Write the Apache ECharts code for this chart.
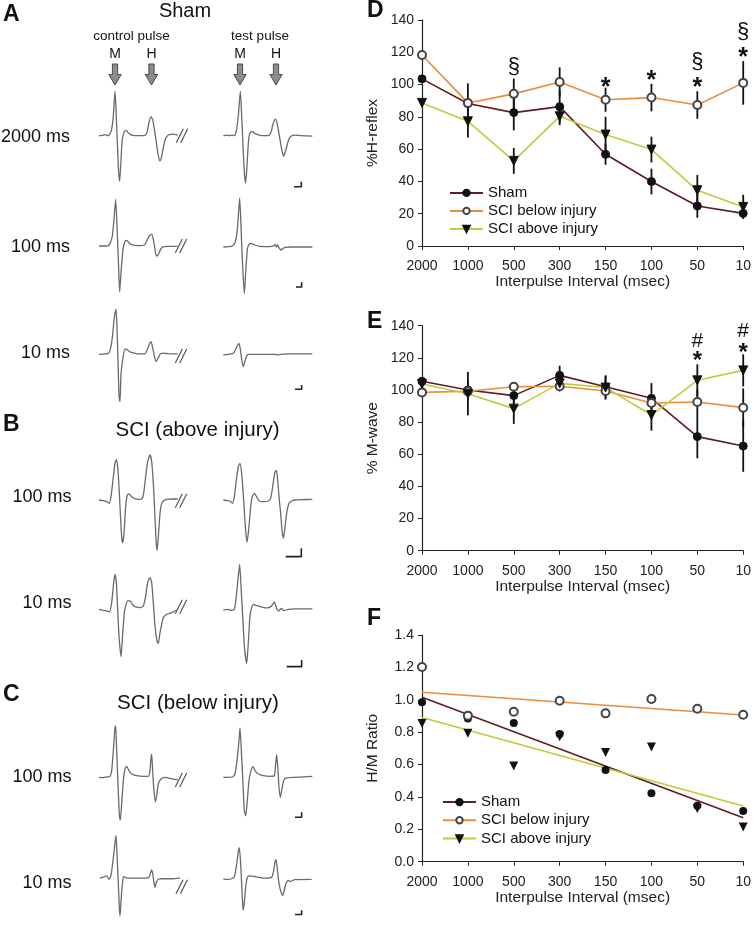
<!DOCTYPE html>
<html><head><meta charset="utf-8">
<script src="https://cdn.jsdelivr.net/npm/echarts@6/dist/echarts.min.js"></script>
<style>html,body{margin:0;padding:0;background:#fff}#c{width:754px;height:931px}</style>
</head><body><div id="c"></div>
<script>
const FONT = '"Liberation Sans", Arial, Helvetica, sans-serif';

// ---------- Panels D/E/F data ----------
const categories = ['2000','1000','500','300','150','100','50','10'];
const seriesNames = ['Sham','SCI below injury','SCI above injury'];

// D: %H-reflex
const hShamMean  = [103.5, 88.2, 82.6, 86.3, 56.8, 39.9, 24.8, 20.2];
const hShamSE    = [0, 12.5, 11, 10, 6.5, 8, 7.3, 3];
const hBelowMean = [118.3, 88.6, 94.2, 101.6, 90.6, 91.9, 87.3, 101];
const hBelowSE   = [0, 0, 9.5, 9, 7.5, 8.5, 8.5, 13.5];
const hAboveMean = [88.6, 77.2, 52.7, 80.3, 69, 59.7, 34.5, 24.2];
const hAboveSE   = [0, 10, 8, 5.5, 11, 8, 9.5, 7.5];
const annotDCat  = [2, 4, 5, 6, 6, 7, 7];
const annotDVal  = [110.9, 98, 102.3, 114, 98, 132.6, 116.5];
const annotDText = ['§', '*', '*', '§', '*', '§', '*'];

// E: % M-wave
const mShamMean  = [105.4, 100, 96.5, 109.1, 102, 94.8, 71, 65.1];
const mShamSE    = [0, 6, 5, 6, 7, 9.5, 13.5, 16];
const mBelowMean = [98.5, 99.2, 102, 102.3, 99.4, 91.9, 92.5, 89];
const mBelowSE   = [0, 0, 0, 0, 0, 0, 8, 12];
const mAboveMean = [103.7, 97.7, 88.4, 104.1, 101.5, 84.4, 106, 112.2];
const mAboveSE   = [0, 13.5, 9.5, 5, 7.5, 9.7, 10, 10];
const annotECat  = [6, 6, 7, 7];
const annotEVal  = [130.5, 117.5, 136.3, 123];
const annotEText = ['#', '*', '#', '*'];

// F: H/M ratio
const rShamPts  = [0.984, 0.885, 0.857, 0.789, 0.566, 0.422, 0.346, 0.313];
const rBelowPts = [1.202, 0.902, 0.926, 0.994, 0.916, 1.005, 0.945, 0.908];
const rAbovePts = [0.854, 0.793, 0.591, 0.772, 0.675, 0.708, 0.329, 0.214];
const rShamTrend  = [1.015, 0.272];
const rBelowTrend = [1.046, 0.906];
const rAboveTrend = [0.891, 0.344];

// ---------- Panels A/B/C traces (time units, amplitude units) ----------
const traceA2000Ctrl = [[12,0],[22,1],[30,3],[38,0],[44,4],[50,20],[55,60],[60,134],[63,80],[67,-20],[71,-110],[74,-136],[77,-90],[82,-10],[88,12],[94,16],[100,8],[110,2],[130,0],[150,1],[156,10],[162,40],[168,57],[173,48],[178,20],[184,-20],[190,-60],[195,-76],[200,-62],[206,-30],[212,-8],[220,2],[235,5],[248,2]];
const traceA2000Test = [[385,0],[395,2],[402,0],[410,2],[418,0],[424,15],[430,60],[436,134],[440,60],[444,-30],[448,-110],[452,-142],[456,-90],[461,-10],[466,10],[472,12],[480,6],[495,1],[520,0],[528,10],[534,35],[541,50],[547,35],[553,0],[560,-40],[566,-62],[572,-45],[580,-15],[588,-2],[600,2],[620,0],[652,-1]];
const traceA100Ctrl = [[12,0],[30,0],[40,1],[46,10],[52,30],[57,80],[62,140],[66,60],[70,-40],[74,-138],[78,-80],[84,-10],[90,14],[96,17],[102,10],[110,4],[130,1],[148,3],[155,15],[163,30],[170,35],[175,20],[180,-10],[184,-30],[190,-25],[198,-8],[206,-2],[220,-1],[248,-1]];
const traceA100Test = [[385,-3],[400,-2],[412,0],[420,10],[426,40],[430,90],[434,144],[438,60],[442,-40],[448,-143],[452,-80],[457,-10],[462,5],[468,8],[480,3],[495,-1],[520,-2],[530,-1],[538,1],[541,5],[544,-3],[548,3],[552,-5],[558,-12],[563,-8],[570,-4],[590,-3],[652,-3]];
const traceA10Ctrl = [[12,0],[30,1],[40,3],[46,15],[52,50],[58,110],[63,135],[66,80],[69,-20],[72,-120],[75,-142],[78,-60],[84,-10],[90,16],[96,14],[104,8],[115,4],[130,1],[150,2],[156,12],[163,30],[168,38],[173,20],[178,-5],[184,-22],[190,-10],[198,3],[206,3],[220,2],[248,1]];
const traceA10Test = [[385,-2],[400,0],[415,3],[422,15],[428,28],[432,33],[436,15],[440,-15],[445,-37],[450,-20],[456,-3],[462,0],[475,0],[500,0],[540,0],[548,-2],[556,0],[580,1],[652,1]];
const traceB100Ctrl = [[12,0],[25,-2],[35,-5],[43,-10],[48,10],[54,60],[60,110],[64,121],[68,100],[72,40],[76,-40],[80,-110],[83,-128],[87,-100],[92,-20],[97,15],[102,18],[110,10],[120,4],[130,2],[140,3],[146,20],[152,70],[158,115],[165,135],[170,115],[175,50],[179,-30],[183,-120],[186,-152],[190,-110],[195,-40],[200,-10],[206,-2],[215,2],[230,3],[248,3]];
const traceB100Test = [[385,0],[398,-2],[406,-4],[412,-10],[418,10],[424,60],[430,100],[435,110],[440,80],[446,0],[451,-80],[456,-127],[461,-90],[467,-20],[472,10],[478,20],[485,10],[492,-2],[505,-5],[520,-3],[527,5],[533,40],[540,85],[544,89],[548,60],[552,10],[557,-40],[561,-90],[565,-115],[569,-90],[575,-40],[582,-10],[590,-3],[600,0],[620,1],[652,2]];
const traceB10Ctrl = [[12,0],[25,-3],[35,-5],[43,-8],[50,20],[56,80],[60,105],[64,80],[68,0],[72,-80],[78,-142],[82,-90],[88,-10],[92,10],[98,25],[105,25],[112,15],[120,8],[135,5],[145,10],[152,40],[158,80],[165,95],[170,80],[175,20],[180,-50],[186,-95],[190,-102],[195,-70],[200,-45],[205,-25],[215,-15],[230,-10],[245,-2]];
const traceB10Test = [[385,-2],[398,0],[410,-3],[418,0],[424,40],[430,100],[434,135],[438,70],[443,-20],[448,-110],[455,-162],[460,-100],[465,-20],[470,5],[476,15],[482,12],[490,10],[500,7],[515,4],[528,8],[533,15],[538,22],[542,12],[546,0],[552,-5],[556,0],[560,3],[564,-3],[570,-3],[580,0],[600,1],[652,1]];
const traceC100Ctrl = [[12,0],[25,-1],[35,1],[45,3],[50,20],[55,80],[60,150],[62,154],[65,80],[69,-20],[73,-110],[76,-128],[80,-80],[85,-10],[90,25],[95,33],[102,20],[110,10],[125,5],[145,3],[160,3],[165,20],[168,60],[170,69],[173,20],[176,-30],[181,-74],[185,-55],[190,-20],[198,-5],[210,0],[225,-3],[240,-6],[248,-7]];
const traceC100Test = [[385,0],[400,0],[412,1],[420,10],[426,50],[432,110],[435,148],[440,60],[444,-20],[448,-100],[452,-116],[456,-80],[462,-10],[468,20],[474,32],[480,20],[490,10],[505,5],[525,3],[538,5],[542,40],[545,69],[549,20],[552,-30],[556,-60],[560,-40],[566,-10],[574,-2],[600,0],[652,3]];
const traceC10Ctrl = [[15,0],[27,4],[35,8],[42,-4],[48,10],[54,60],[60,120],[63,146],[66,80],[70,-20],[73,-100],[75,-129],[78,-80],[82,-20],[86,5],[92,2],[110,0],[150,0],[162,3],[167,20],[170,29],[174,10],[177,-15],[180,-32],[184,-15],[190,-3],[200,-2],[230,-2],[255,0]];
const traceC10Test = [[385,-3],[398,-4],[410,-2],[418,5],[424,40],[430,90],[433,104],[437,50],[440,-20],[443,-90],[445,-109],[449,-70],[453,-20],[458,5],[465,8],[477,6],[495,2],[515,0],[530,3],[536,25],[540,55],[543,64],[547,30],[551,-10],[556,-40],[563,-59],[568,-40],[574,-15],[580,-8],[586,-12],[592,-8],[600,-5],[650,-4]];
// scale bars (time/amplitude units)
const scaleA2000 = [[597,-153],[619,-153],[619,-138]];
const scaleA100  = [[603,-123],[620,-123],[620,-109]];
const scaleA10   = [[600,-105],[620,-105],[620,-92]];
const scaleB100  = [[572,-170],[619,-170],[619,-145]];
const scaleB10   = [[575,-172],[620,-172],[620,-152]];
const scaleC100  = [[600,-120],[620,-120],[620,-105]];
const scaleC10   = [[600,-124],[620,-124],[620,-109]];

// ---------- layout ----------
const traceRows = [
  {base:135.7, ctrl:traceA2000Ctrl, test:traceA2000Test, scale:scaleA2000},
  {base:246,   ctrl:traceA100Ctrl,  test:traceA100Test,  scale:scaleA100},
  {base:354.3, ctrl:traceA10Ctrl,   test:traceA10Test,   scale:scaleA10},
  {base:500,   ctrl:traceB100Ctrl,  test:traceB100Test,  scale:scaleB100},
  {base:609.3, ctrl:traceB10Ctrl,   test:traceB10Test,   scale:scaleB10},
  {base:777.3, ctrl:traceC100Ctrl,  test:traceC100Test,  scale:scaleC100},
  {base:885.3, ctrl:traceC10Ctrl,   test:traceC10Test,   scale:scaleC10}
];
const breakMarks = [[182,135.8],[181,246],[181,356],[181,500.8],[181,606.7],[181,780],[181.7,886.7]];

const COL_SHAM = '#5f1c22', COL_BELOW = '#ea8c3c', COL_ABOVE = '#c3c93c';
const AX = '#222';

const grids = [], xAxes = [], yAxes = [], series = [];

function addRightChart(top, height, yMax, yInt, yName, decimals) {
  const gi = grids.length;
  grids.push({left:422, right:9, top:top, height:height});
  xAxes.push({type:'category', gridIndex:gi, data:categories, boundaryGap:false,
    axisLine:{lineStyle:{color:AX, width:1.2}},
    axisTick:{show:true, alignWithLabel:true, length:4, lineStyle:{color:AX}},
    axisLabel:{color:AX, fontSize:14, fontFamily:FONT, margin:13, interval:0},
    name:'Interpulse Interval (msec)', nameLocation:'middle', nameGap:28,
    nameTextStyle:{color:AX, fontSize:15.5, fontFamily:FONT}});
  yAxes.push({type:'value', gridIndex:gi, min:0, max:yMax, interval:yInt,
    axisLine:{show:true, lineStyle:{color:AX, width:1.2}},
    axisTick:{show:true, length:4, lineStyle:{color:AX}},
    splitLine:{show:false},
    axisLabel:{color:AX, fontSize:14, fontFamily:FONT, margin:8,
      formatter: v => decimals ? v.toFixed(decimals) : String(v)},
    name:yName, nameLocation:'middle', nameGap:41,
    nameTextStyle:{color:AX, fontSize:15.5, fontFamily:FONT}});
  return gi;
}

function lineSeries(gi, name, data, lineColor, symbol, z) {
  const s = {type:'line', name:name, xAxisIndex:gi, yAxisIndex:gi, data:data,
    symbol:symbol, symbolSize:8, showSymbol:true,
    lineStyle:{color:lineColor, width:1.6},
    itemStyle:{color:'#111', borderColor:'#111', borderWidth:1},
    z:z||4, silent:true, animation:false, emphasis:{disabled:true}};
  if (symbol === 'emptyCircle') { s.itemStyle = {color:'#444', borderColor:'#444', borderWidth:1}; }
  if (symbol === 'triangle') { s.symbolRotate = 180; s.symbolSize = 9; }
  return s;
}

function errSeries(gi, pairs) {
  const data = [];
  pairs.forEach(([means, ses]) => means.forEach((m, i) => { if (ses[i] > 0) data.push([i, m - ses[i], m + ses[i]]); }));
  return {type:'custom', xAxisIndex:gi, yAxisIndex:gi, data:data, encode:{x:0, y:[1,2]}, z:3, silent:true,
    renderItem: (params, api) => {
      const p1 = api.coord([api.value(0), api.value(1)]);
      const p2 = api.coord([api.value(0), api.value(2)]);
      return {type:'line', shape:{x1:p1[0], y1:p1[1], x2:p2[0], y2:p2[1]}, style:{stroke:'#111', lineWidth:1.8}};
    }};
}

function annotSeries(gi, cats, vals, texts, fontSize) {
  return {type:'custom', xAxisIndex:gi, yAxisIndex:gi, silent:true, z:6,
    data: cats.map((c, i) => [c, vals[i], i]), encode:{x:0, y:1},
    renderItem: (params, api) => {
      const p = api.coord([api.value(0), api.value(1)]);
      const t = texts[params.dataIndex];
      const star = t === '*';
      return {type:'text', x:p[0], y:p[1], style:{text:t, fontSize: star ? fontSize + 3 : fontSize,
        fontWeight: star ? 'bold' : 'normal', fontFamily:FONT, fill:'#111',
        textAlign:'center', align:'center', textVerticalAlign:'middle', verticalAlign:'middle'}};
    }};
}

// D
const gD = addRightChart(19.9, 226.1, 140, 20, '%H-reflex', 0);
series.push(lineSeries(gD, seriesNames[0], hShamMean, COL_SHAM, 'circle'));
series.push(lineSeries(gD, seriesNames[1], hBelowMean, COL_BELOW, 'emptyCircle'));
series.push(lineSeries(gD, seriesNames[2], hAboveMean, COL_ABOVE, 'triangle'));
series.push(errSeries(gD, [[hShamMean,hShamSE],[hBelowMean,hBelowSE],[hAboveMean,hAboveSE]]));
series.push(annotSeries(gD, annotDCat, annotDVal, annotDText, 22));

// E
const gE = addRightChart(325.7, 225, 140, 20, '% M-wave', 0);
series.push(lineSeries(gE, 'E ' + seriesNames[0], mShamMean, COL_SHAM, 'circle'));
series.push(lineSeries(gE, 'E ' + seriesNames[1], mBelowMean, COL_BELOW, 'emptyCircle'));
series.push(lineSeries(gE, 'E ' + seriesNames[2], mAboveMean, COL_ABOVE, 'triangle'));
series.push(errSeries(gE, [[mShamMean,mShamSE],[mBelowMean,mBelowSE],[mAboveMean,mAboveSE]]));
series.push(annotSeries(gE, annotECat, annotEVal, annotEText, 21));

// F
const gF = addRightChart(635, 226.7, 1.4, 0.2, 'H/M Ratio', 1);
function trendData(ends) {
  return categories.map((c, i) => i === 0 ? {value:ends[0], symbol:'none'} : (i === categories.length - 1 ? {value:ends[1], symbol:'none'} : '-'));
}
const fTrends = [[rShamTrend, COL_SHAM, 'circle'], [rBelowTrend, COL_BELOW, 'emptyCircle'], [rAboveTrend, COL_ABOVE, 'triangle']];
fTrends.forEach(([ends, col, sym], k) => {
  const s = lineSeries(gF, 'F ' + seriesNames[k], trendData(ends), col, sym, 3);
  s.connectNulls = true;
  series.push(s);
});
[[rShamPts,'circle'],[rBelowPts,'emptyCircle'],[rAbovePts,'triangle']].forEach(([pts, sym]) => {
  const s = {type:'scatter', xAxisIndex:gF, yAxisIndex:gF, data:pts, symbol:sym, symbolSize:8, z:5, silent:true,
    itemStyle:{color: sym === 'emptyCircle' ? '#444' : '#111', opacity:1}};
  if (sym === 'triangle') { s.symbolRotate = 180; s.symbolSize = 9; }
  series.push(s);
});

// traces
traceRows.forEach(row => {
  const gi = grids.length;
  grids.push({left:95, width:225, top:row.base - 60, height:120});
  xAxes.push({type:'value', gridIndex:gi, min:0, max:675, show:false});
  yAxes.push({type:'value', gridIndex:gi, min:-180, max:180, show:false});
  [row.ctrl, row.test].forEach(tr => series.push({type:'line', xAxisIndex:gi, yAxisIndex:gi, data:tr,
    symbol:'none', smooth:0.2, lineStyle:{color:'#6a6a6a', width:1.3}, silent:true, z:2}));
  series.push({type:'line', xAxisIndex:gi, yAxisIndex:gi, data:row.scale, symbol:'none',
    lineStyle:{color:'#222', width:1.6}, silent:true, z:2});
});

// graphic texts / arrows / break marks
const g = [];
function txt(text, x, y, size, align, weight) {
  g.push({type:'text', x:x, y:y, silent:true, style:{text:text, fontSize:size, fontFamily:FONT, fontWeight:weight||'normal',
    fill:'#111', textAlign:align||'center', align:align||'center', textVerticalAlign:'middle', verticalAlign:'middle'}});
}
txt('A', 3, 14.5, 23, 'left', 'bold');
txt('Sham', 185, 11, 20);
txt('control pulse', 131.5, 36, 13.5);
txt('test pulse', 260, 36, 13.5);
[['M',115],['H',151.5],['M',240],['H',276]].forEach(([t,x]) => txt(t, x, 54, 14));
txt('2000 ms', 70, 136.7, 18, 'right');
txt('100 ms', 70, 246.7, 18, 'right');
txt('10 ms', 70, 353, 18, 'right');
txt('B', 3, 425, 23, 'left', 'bold');
txt('SCI (above injury)', 197.5, 430, 20.5);
txt('100 ms', 71.5, 496.7, 18, 'right');
txt('10 ms', 71.5, 603.3, 18, 'right');
txt('C', 3, 695, 23, 'left', 'bold');
txt('SCI (below injury)', 198, 703.3, 20.5);
txt('100 ms', 71.5, 776.7, 18, 'right');
txt('10 ms', 71.5, 883.3, 18, 'right');
txt('D', 367, 11, 23, 'left', 'bold');
txt('E', 367, 321.5, 23, 'left', 'bold');
txt('F', 367, 619, 23, 'left', 'bold');

[115, 151.5, 240, 276].forEach(cx => {
  g.push({type:'polygon', silent:true, shape:{points:[[cx-2.6,64],[cx+2.6,64],[cx+2.6,74.5],[cx+6.2,74.5],[cx,85],[cx-6.2,74.5],[cx-2.6,74.5]]},
    style:{fill:'#8c8c8c', stroke:'#4a4a4a', lineWidth:1}});
});
breakMarks.forEach(([cx, cy]) => {
  [-2.2, 2.2].forEach(dx => g.push({type:'line', silent:true,
    shape:{x1:cx+dx-3.5, y1:cy+7, x2:cx+dx+3.5, y2:cy-7}, style:{stroke:'#555', lineWidth:1.2}}));
});

const option = {
  animation:false,
  backgroundColor:'#fff',
  textStyle:{fontFamily:FONT},
  grid:grids, xAxis:xAxes, yAxis:yAxes, series:series,
  legend:[
    {data:seriesNames, orient:'vertical', left:449, top:185.4, itemWidth:33, itemHeight:8, itemGap:3, padding:0,
      textStyle:{fontSize:15, color:'#111', fontFamily:FONT}, selectedMode:false},
    {data:seriesNames, orient:'vertical', left:442, top:794.6, itemWidth:33, itemHeight:8, itemGap:3.2, padding:0,
      textStyle:{fontSize:15, color:'#111', fontFamily:FONT}, selectedMode:false}
  ],
  graphic:g
};
const chart = echarts.init(document.getElementById('c'));
chart.setOption(option);
</script></body></html>
